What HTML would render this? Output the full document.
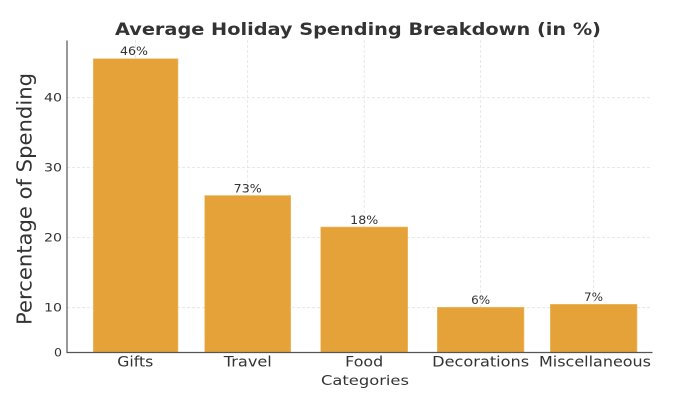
<!DOCTYPE html>
<html><head><meta charset="utf-8"><style>
html,body{margin:0;padding:0;background:#fff;}
svg{display:block;}
text{font-family:"DejaVu Sans","Liberation Sans",sans-serif;fill:#333;}
</style></head><body>
<svg width="700" height="400" viewBox="0 0 700 400" xmlns="http://www.w3.org/2000/svg">
<rect width="700" height="400" fill="#fff"/>
<!-- grid -->
<g stroke="#e2e2e2" stroke-width="0.8" stroke-dasharray="3,2" fill="none">
<line x1="67" y1="307.7" x2="652" y2="307.7"/>
<line x1="67" y1="237.5" x2="652" y2="237.5"/>
<line x1="67" y1="167.5" x2="652" y2="167.5"/>
<line x1="67" y1="97.7" x2="652" y2="97.7"/>
<line x1="135.5" y1="40" x2="135.5" y2="352"/>
<line x1="247.7" y1="40" x2="247.7" y2="352"/>
<line x1="364.2" y1="40" x2="364.2" y2="352"/>
<line x1="480.7" y1="40" x2="480.7" y2="352"/>
<line x1="593.7" y1="40" x2="593.7" y2="352"/>
</g>
<!-- bars -->
<g fill="#E4A238" stroke="#F0C070" stroke-width="0.6">
<rect x="93.3" y="58.7" width="84.7" height="293.6"/>
<rect x="204.7" y="195.5" width="86" height="156.8"/>
<rect x="320.7" y="227" width="87" height="125.3"/>
<rect x="437.3" y="307.3" width="86.7" height="45"/>
<rect x="550.3" y="304.3" width="86.7" height="48"/>
</g>
<!-- spines -->
<line x1="67" y1="40.5" x2="67" y2="352.5" stroke="#555" stroke-width="1.2"/>
<line x1="66.5" y1="352.5" x2="652.5" y2="352.5" stroke="#555" stroke-width="1.2"/>
<!-- title -->
<text x="115" y="35" font-size="17" font-weight="bold" textLength="486" lengthAdjust="spacingAndGlyphs">Average Holiday Spending Breakdown (in %)</text>
<!-- y label -->
<text transform="translate(31.5,199) rotate(-90)" text-anchor="middle" font-size="20" textLength="252" lengthAdjust="spacingAndGlyphs">Percentage of Spending</text>
<!-- y ticks -->
<g font-size="11.5" text-anchor="end">
<text x="62" y="356.5" textLength="8" lengthAdjust="spacingAndGlyphs">0</text>
<text x="62" y="311.7" textLength="18" lengthAdjust="spacingAndGlyphs">10</text>
<text x="62" y="241.5" textLength="18" lengthAdjust="spacingAndGlyphs">20</text>
<text x="62" y="171.5" textLength="18" lengthAdjust="spacingAndGlyphs">30</text>
<text x="62" y="101.7" textLength="18" lengthAdjust="spacingAndGlyphs">40</text>
</g>
<!-- x ticks -->
<g font-size="14" text-anchor="middle">
<text x="135.3" y="366.5" textLength="36" lengthAdjust="spacingAndGlyphs">Gifts</text>
<text x="247.8" y="366.5" textLength="48" lengthAdjust="spacingAndGlyphs">Travel</text>
<text x="364.2" y="366.5" textLength="38" lengthAdjust="spacingAndGlyphs">Food</text>
<text x="480.7" y="366.5" textLength="97" lengthAdjust="spacingAndGlyphs">Decorations</text>
<text x="595" y="366.5" textLength="112" lengthAdjust="spacingAndGlyphs">Miscellaneous</text>
</g>
<text x="365" y="385" font-size="13.5" text-anchor="middle" textLength="88" lengthAdjust="spacingAndGlyphs">Categories</text>
<!-- bar labels -->
<g font-size="11.5" text-anchor="middle">
<text x="134" y="55" textLength="28" lengthAdjust="spacingAndGlyphs">46%</text>
<text x="247.7" y="192.5" textLength="28" lengthAdjust="spacingAndGlyphs">73%</text>
<text x="364.2" y="224" textLength="28" lengthAdjust="spacingAndGlyphs">18%</text>
<text x="480.7" y="304" textLength="19" lengthAdjust="spacingAndGlyphs">6%</text>
<text x="593.5" y="301" textLength="19" lengthAdjust="spacingAndGlyphs">7%</text>
</g>
</svg>
</body></html>
